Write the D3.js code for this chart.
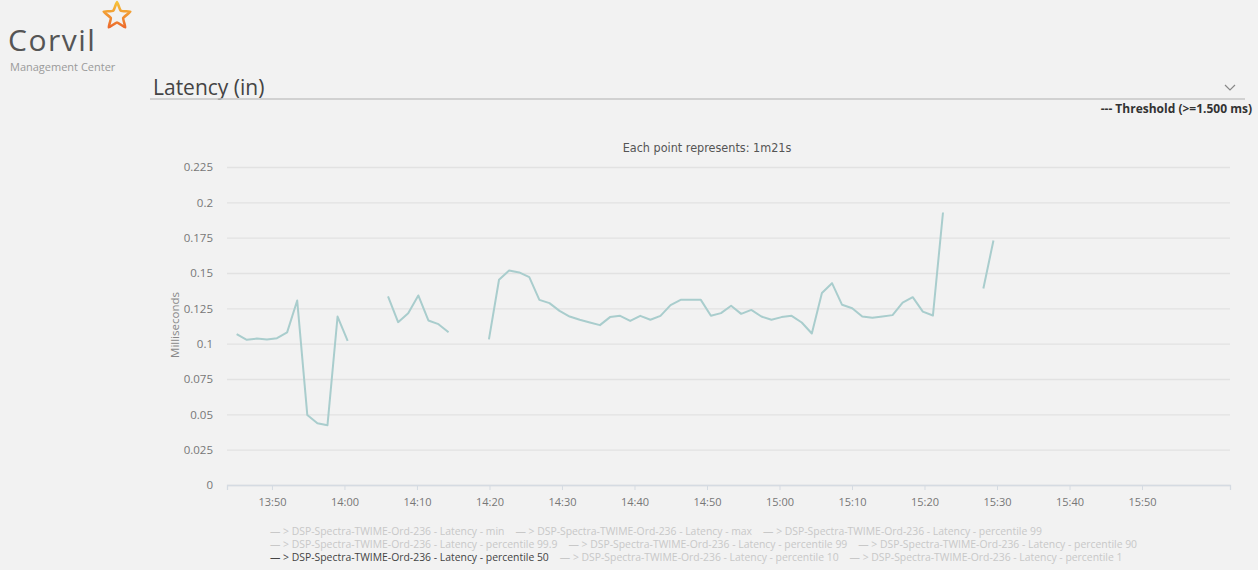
<!DOCTYPE html>
<html>
<head>
<meta charset="utf-8">
<script src="https://cdn.jsdelivr.net/npm/d3@7"></script>
<style>
  html, body { margin: 0; padding: 0; background: #f2f2f2; }
  svg { display: block; font-family: "Open Sans", "Noto Sans", sans-serif; }
</style>
</head>
<body>
<svg id="chart" width="1258" height="570"></svg>
<script>
// ---- data -------------------------------------------------------------
// Latency percentile 50 (ms), one bucket per point; null = no sample
const firstPoint = "13:45:08";
const pointSeconds = 83.5;
const p50Values = [
  0.1067, 0.1027, 0.1036, 0.1029, 0.1039, 0.1080, 0.1305, 0.0496, 0.0437, 0.0423, 0.1192, 0.1020,
  null, null, null,
  0.1334, 0.1152, 0.1216, 0.1341, 0.1164, 0.1138, 0.1081,
  null, null, null,
  0.1030, 0.1452, 0.1518, 0.1504, 0.1471, 0.1310, 0.1287, 0.1232, 0.1192, 0.1169,
  0.1150, 0.1131, 0.1188, 0.1197, 0.1161, 0.1197, 0.1169, 0.1197, 0.1273, 0.1310,
  0.1310, 0.1310, 0.1197, 0.1216, 0.1268, 0.1211, 0.1239, 0.1192, 0.1169, 0.1188,
  0.1197, 0.1150, 0.1072, 0.1358, 0.1428, 0.1275, 0.1251, 0.1192, 0.1183, 0.1192,
  0.1202, 0.1291, 0.1329, 0.1227, 0.1199, 0.1928,
  null, null, null,
  0.1390, 0.1730
];
const xTickLabels = ["13:50","14:00","14:10","14:20","14:30","14:40","14:50",
                     "15:00","15:10","15:20","15:30","15:40","15:50"];
const xDomain = ["13:43:48", "16:02:08"];
const yTicks = [0, 0.025, 0.05, 0.075, 0.1, 0.125, 0.15, 0.175, 0.2, 0.225];
const yTickLabels = ["0","0.025","0.05","0.075","0.1","0.125","0.15","0.175","0.2","0.225"];
const legendLabels = [
  ["— > DSP-Spectra-TWIME-Ord-236 - Latency - min",
   "— > DSP-Spectra-TWIME-Ord-236 - Latency - max",
   "— > DSP-Spectra-TWIME-Ord-236 - Latency - percentile 99"],
  ["— > DSP-Spectra-TWIME-Ord-236 - Latency - percentile 99.9",
   "— > DSP-Spectra-TWIME-Ord-236 - Latency - percentile 99",
   "— > DSP-Spectra-TWIME-Ord-236 - Latency - percentile 90"],
  ["— > DSP-Spectra-TWIME-Ord-236 - Latency - percentile 50",
   "— > DSP-Spectra-TWIME-Ord-236 - Latency - percentile 10",
   "— > DSP-Spectra-TWIME-Ord-236 - Latency - percentile 1"]
];
const activeSeries = "— > DSP-Spectra-TWIME-Ord-236 - Latency - percentile 50";

// ---- setup ------------------------------------------------------------
const parseT = d3.timeParse("%H:%M:%S");
const svg = d3.select("#chart");
const W = 1258, H = 570;

svg.append("rect").attr("width", W).attr("height", H).attr("fill", "#f2f2f2");

// ---- header: logo ----------------------------------------------------
const logo = svg.append("g");
logo.append("text").attr("x", 8).attr("y", 51)
  .attr("font-size", 30).attr("font-weight", 500).attr("fill", "#555")
  .attr("letter-spacing", 1.5)
  .text("Corvil");
logo.append("text").attr("x", 10).attr("y", 71)
  .attr("font-size", 11).attr("fill", "#9a9a9a")
  .text("Management Center");
const grad = svg.append("defs").append("linearGradient")
  .attr("id", "starGrad").attr("x1", "0").attr("y1", "0").attr("x2", "0").attr("y2", "1");
grad.append("stop").attr("offset", "0%").attr("stop-color", "#f6c23a");
grad.append("stop").attr("offset", "100%").attr("stop-color", "#ec6a2c");
// five-pointed outline star
const cx = 117, cy = 16, ro = 14, ri = 6.5;
const starPts = d3.range(10).map(i => {
  const a = -Math.PI / 2 + i * Math.PI / 5;
  const r = i % 2 === 0 ? ro : ri;
  return [cx + r * Math.cos(a), cy + r * Math.sin(a)];
});
logo.append("path")
  .attr("d", d3.line().curve(d3.curveCardinalClosed.tension(0.55))(starPts))
  .attr("fill", "none").attr("stroke", "url(#starGrad)").attr("stroke-width", 2.6);

// ---- panel title -----------------------------------------------------
svg.append("text").attr("x", 153).attr("y", 95)
  .attr("font-size", 21).attr("fill", "#444").text("Latency (in)");
svg.append("line").attr("x1", 150).attr("x2", 1245).attr("y1", 99).attr("y2", 99)
  .attr("stroke", "#c6c6c6").attr("stroke-width", 1.5);
svg.append("path").attr("d", "M1225,85 L1230,90 L1235,85")
  .attr("fill", "none").attr("stroke", "#888").attr("stroke-width", 1.2);
svg.append("text").attr("x", 1252).attr("y", 113).attr("text-anchor", "end")
  .attr("font-size", 12).attr("font-weight", "bold").attr("fill", "#333")
  .text("--- Threshold (>=1.500 ms)");

svg.append("text").attr("x", 707).attr("y", 152).attr("text-anchor", "middle")
  .attr("font-family", "'Liberation Sans Narrow', 'DejaVu Sans Condensed', sans-serif")
  .attr("font-stretch", "condensed")
  .attr("font-size", 12.5).attr("fill", "#555")
  .text("Each point represents: 1m21s");

// ---- scales ----------------------------------------------------------
const x = d3.scaleTime().domain(xDomain.map(parseT)).range([227, 1230]);
const y = d3.scaleLinear().domain([0, 0.225]).range([485, 167]);

const t0 = parseT(firstPoint);
const points = p50Values.map((v, i) => ({ t: new Date(+t0 + i * pointSeconds * 1000), v }));

// ---- gridlines & y axis ---------------------------------------------
const yAxis = d3.axisLeft(y).tickValues(yTicks)
  .tickFormat((d, i) => yTickLabels[i]).tickSize(-(1230 - 227)).tickPadding(14);
const gy = svg.append("g").attr("transform", "translate(227,0)").call(yAxis);
gy.select(".domain").remove();
gy.selectAll(".tick line").attr("stroke", "#e2e2e2").attr("stroke-width", 1.3);
gy.selectAll(".tick text").attr("font-size", 11.5).attr("fill", "#777")
  .attr("font-family", "'Open Sans', sans-serif");

svg.append("text")
  .attr("transform", "translate(179,325) rotate(-90)")
  .attr("text-anchor", "middle").attr("font-size", 11.5).attr("fill", "#888")
  .text("Milliseconds");

// ---- x axis ----------------------------------------------------------
const xAxis = d3.axisBottom(x)
  .tickValues(xTickLabels.map(s => parseT(s + ":00")))
  .tickFormat(d3.timeFormat("%H:%M")).tickSize(5).tickPadding(8);
const gx = svg.append("g").attr("transform", "translate(0,485)").call(xAxis);
gx.select(".domain").attr("stroke", "#d5dbe2").attr("stroke-width", 1.3);
gx.selectAll(".tick line").attr("stroke", "#d5dbe2");
gx.selectAll(".tick text").attr("font-size", 11).attr("fill", "#777")
  .attr("font-family", "'Open Sans', sans-serif");

// ---- series line -----------------------------------------------------
const line = d3.line()
  .defined(d => d.v !== null)
  .x(d => x(d.t)).y(d => y(d.v));
svg.append("path").datum(points)
  .attr("d", line).attr("fill", "none")
  .attr("stroke", "#a9cdcd").attr("stroke-width", 2)
  .attr("stroke-linejoin", "round");

// ---- legend ----------------------------------------------------------
const legend = svg.append("g").attr("font-size", 10.4);
const rowY = [535, 548, 561];
legendLabels.forEach((row, r) => {
  let cursor = 270;
  row.forEach(label => {
    const t = legend.append("text").attr("x", cursor).attr("y", rowY[r])
      .attr("fill", label === activeSeries ? "#444" : "#c8c8c8")
      .text(label);
    cursor += t.node().getComputedTextLength() + 11;
  });
});
</script>
</body>
</html>
